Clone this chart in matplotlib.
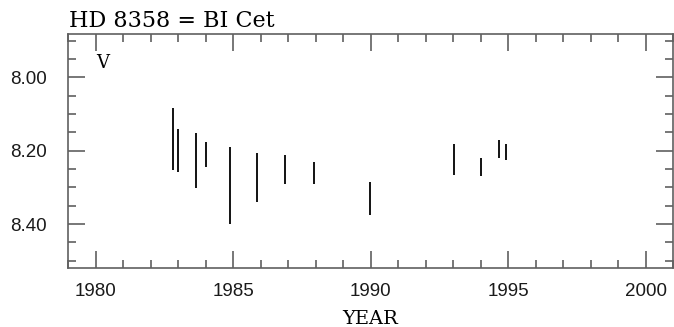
import matplotlib
matplotlib.use("Agg")
import matplotlib.pyplot as plt
from matplotlib.ticker import MultipleLocator, FormatStrFormatter

# Data: observation epochs (year) and V magnitude range (bright, faint)
years = [1982.80, 1982.99, 1983.67, 1984.00, 1984.88, 1985.89, 1986.89,
         1987.94, 1989.97, 1993.03, 1994.00, 1994.69, 1994.92]
v_bright = [8.082, 8.140, 8.151, 8.175, 8.191, 8.206, 8.211,
            8.231, 8.285, 8.181, 8.221, 8.170, 8.181]
v_faint = [8.252, 8.258, 8.302, 8.245, 8.400, 8.341, 8.291,
           8.291, 8.376, 8.266, 8.270, 8.220, 8.226]

title = "HD 8358 = BI Cet"
band = "V"
xlabel = "YEAR"

W, H = 674, 327
fig = plt.figure(figsize=(W / 100, H / 100), dpi=100)
L, R, T, B = 68, 673, 33.5, 268
ax = fig.add_axes([L / W, 1 - B / H, (R - L) / W, (B - T) / H])

ax.vlines(years, v_bright, v_faint, color="black", lw=1.3)

ax.set_xlim(1979, 2001)
ax.set_ylim(8.52, 7.88)

ax.xaxis.set_major_locator(MultipleLocator(5))
ax.xaxis.set_minor_locator(MultipleLocator(1))
ax.yaxis.set_major_locator(MultipleLocator(0.2))
ax.yaxis.set_minor_locator(MultipleLocator(0.05))
ax.yaxis.set_major_formatter(FormatStrFormatter("%.2f"))

spine_col = "#606060"
for s in ax.spines.values():
    s.set_color(spine_col)
    s.set_linewidth(1.2)

ax.tick_params(which="both", direction="in", top=True, right=True,
               color=spine_col, width=1.2, labelsize=13.5,
               labelfontfamily="Liberation Sans", labelcolor="#1a1a1a")
ax.tick_params(which="major", length=12)
ax.tick_params(which="minor", length=6)
ax.tick_params(axis="x", which="major", pad=11)
ax.tick_params(axis="y", which="major", pad=15)

ax.text(0.002, (B - 27.3) / (B - T), title, transform=ax.transAxes,
        family="DejaVu Serif", fontsize=16, va="baseline", ha="left")
ax.text((96 - L) / (R - L), (B - 68) / (B - T), band, transform=ax.transAxes,
        family="DejaVu Serif", fontsize=13, va="baseline", ha="left")
fig.text(((L + R) / 2) / W, (H - 324) / H, xlabel, family="DejaVu Serif",
         fontsize=14, va="baseline", ha="center")

fig.savefig("out.png", dpi=100)
